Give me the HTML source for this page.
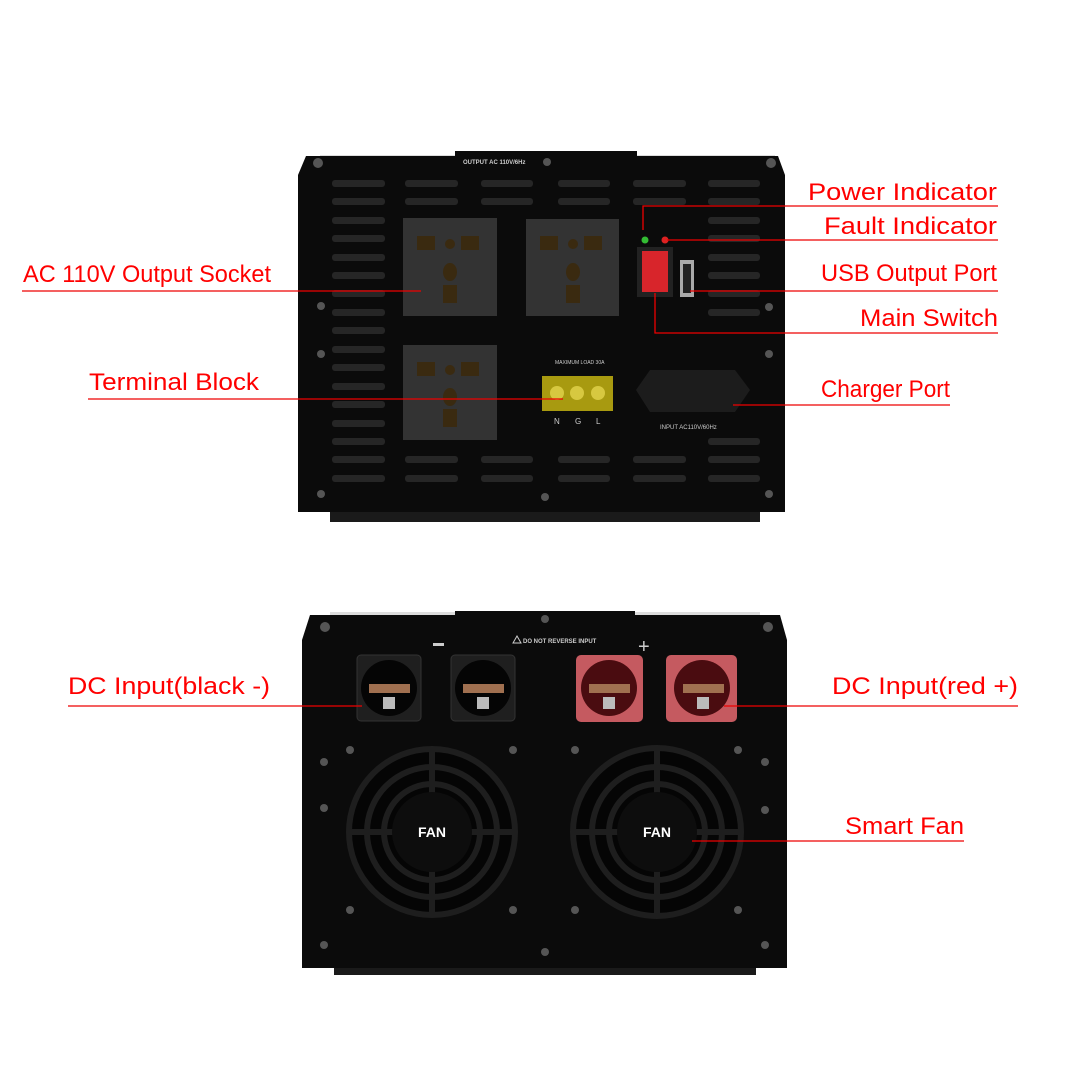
<!DOCTYPE html>
<html><head><meta charset="utf-8"><style>html,body{margin:0;padding:0;background:#fff}svg{display:block}</style></head><body>
<svg width="1080" height="1080" viewBox="0 0 1080 1080" xmlns="http://www.w3.org/2000/svg" font-family="Liberation Sans, sans-serif">
<rect width="1080" height="1080" fill="#fff"/>
<!-- TOP UNIT -->
<rect x="330" y="508" width="430" height="14" fill="#1a1a1a"/>
<rect x="320" y="155" width="455" height="8" fill="#ddd"/>
<path d="M306 156 L455 156 L455 151 L637 151 L637 156 L778 156 L785 175 L785 512 L298 512 L298 175 Z" fill="#0b0b0b"/>
<text x="463" y="164" font-size="6" fill="#ccc" font-weight="bold">OUTPUT AC 110V/6Hz</text>
<g fill="#262626">
<rect x="332" y="180" width="53" height="7" rx="3"/><rect x="405" y="180" width="53" height="7" rx="3"/><rect x="481" y="180" width="52" height="7" rx="3"/><rect x="558" y="180" width="52" height="7" rx="3"/><rect x="633" y="180" width="53" height="7" rx="3"/><rect x="708" y="180" width="52" height="7" rx="3"/>
<rect x="332" y="198" width="53" height="7" rx="3"/><rect x="405" y="198" width="53" height="7" rx="3"/><rect x="481" y="198" width="52" height="7" rx="3"/><rect x="558" y="198" width="52" height="7" rx="3"/><rect x="633" y="198" width="53" height="7" rx="3"/><rect x="708" y="198" width="52" height="7" rx="3"/>
<rect x="332" y="217" width="53" height="7" rx="3"/><rect x="332" y="235" width="53" height="7" rx="3"/><rect x="332" y="254" width="53" height="7" rx="3"/><rect x="332" y="272" width="53" height="7" rx="3"/><rect x="332" y="290" width="53" height="7" rx="3"/><rect x="332" y="309" width="53" height="7" rx="3"/><rect x="332" y="327" width="53" height="7" rx="3"/><rect x="332" y="346" width="53" height="7" rx="3"/><rect x="332" y="364" width="53" height="7" rx="3"/><rect x="332" y="383" width="53" height="7" rx="3"/><rect x="332" y="401" width="53" height="7" rx="3"/><rect x="332" y="420" width="53" height="7" rx="3"/><rect x="332" y="438" width="53" height="7" rx="3"/>
<rect x="708" y="217" width="52" height="7" rx="3"/><rect x="708" y="235" width="52" height="7" rx="3"/><rect x="708" y="254" width="52" height="7" rx="3"/><rect x="708" y="272" width="52" height="7" rx="3"/><rect x="708" y="290" width="52" height="7" rx="3"/><rect x="708" y="309" width="52" height="7" rx="3"/><rect x="708" y="438" width="52" height="7" rx="3"/>
<rect x="332" y="456" width="53" height="7" rx="3"/><rect x="405" y="456" width="53" height="7" rx="3"/><rect x="481" y="456" width="52" height="7" rx="3"/><rect x="558" y="456" width="52" height="7" rx="3"/><rect x="633" y="456" width="53" height="7" rx="3"/><rect x="708" y="456" width="52" height="7" rx="3"/>
<rect x="332" y="475" width="53" height="7" rx="3"/><rect x="405" y="475" width="53" height="7" rx="3"/><rect x="481" y="475" width="52" height="7" rx="3"/><rect x="558" y="475" width="52" height="7" rx="3"/><rect x="633" y="475" width="53" height="7" rx="3"/><rect x="708" y="475" width="52" height="7" rx="3"/>
</g>
<g fill="#333">
<rect x="403" y="218" width="94" height="98"/><rect x="526" y="219" width="93" height="97"/><rect x="403" y="345" width="94" height="95"/>
</g>
<g fill="#3a2a10">
<rect x="417" y="236" width="18" height="14"/><rect x="461" y="236" width="18" height="14"/><circle cx="450" cy="244" r="5"/><ellipse cx="450" cy="272" rx="7" ry="9"/><rect x="443" y="285" width="14" height="18"/>
<rect x="540" y="236" width="18" height="14"/><rect x="584" y="236" width="18" height="14"/><circle cx="573" cy="244" r="5"/><ellipse cx="573" cy="272" rx="7" ry="9"/><rect x="566" y="285" width="14" height="18"/>
<rect x="417" y="362" width="18" height="14"/><rect x="461" y="362" width="18" height="14"/><circle cx="450" cy="370" r="5"/><ellipse cx="450" cy="397" rx="7" ry="9"/><rect x="443" y="409" width="14" height="18"/>
</g>
<circle cx="645" cy="240" r="3.5" fill="#3b3"/><circle cx="665" cy="240" r="3.5" fill="#d22"/>
<rect x="637" y="247" width="36" height="50" fill="#222"/><rect x="642" y="251" width="26" height="41" fill="#d8252b"/>
<rect x="680" y="260" width="14" height="37" fill="#aaa"/><rect x="683" y="264" width="8" height="29" fill="#222"/>
<text x="555" y="364" font-size="5" fill="#ccc">MAXIMUM LOAD 30A</text>
<rect x="542" y="376" width="71" height="35" fill="#a89a10"/>
<circle cx="557" cy="393" r="7" fill="#d7c840"/><circle cx="577" cy="393" r="7" fill="#d7c840"/><circle cx="598" cy="393" r="7" fill="#d7c840"/>
<text x="554" y="424" font-size="8" fill="#ccc">N</text><text x="575" y="424" font-size="8" fill="#ccc">G</text><text x="596" y="424" font-size="8" fill="#ccc">L</text>
<path d="M650 370 L735 370 L750 390 L735 412 L650 412 L636 390 Z" fill="#1c1c1c"/>
<text x="660" y="429" font-size="6" fill="#ccc">INPUT  AC110V/60Hz</text>
<g fill="#555"><circle cx="318" cy="163" r="5"/><circle cx="771" cy="163" r="5"/><circle cx="321" cy="306" r="4"/><circle cx="769" cy="307" r="4"/><circle cx="321" cy="354" r="4"/><circle cx="769" cy="354" r="4"/><circle cx="321" cy="494" r="4"/><circle cx="769" cy="494" r="4"/><circle cx="545" cy="497" r="4"/><circle cx="547" cy="162" r="4"/></g>
<!-- BOTTOM UNIT -->
<rect x="334" y="964" width="422" height="11" fill="#1a1a1a"/>
<rect x="330" y="612" width="430" height="8" fill="#ddd"/>
<path d="M310 615 L455 615 L455 611 L635 611 L635 615 L780 615 L787 640 L787 968 L302 968 L302 640 Z" fill="#0b0b0b"/>
<text x="523" y="643" font-size="6" fill="#ccc" font-weight="bold">DO NOT REVERSE INPUT</text>
<path d="M513 643 L517 636 L521 643 Z" fill="none" stroke="#ccc"/>
<rect x="433" y="643" width="11" height="3" fill="#ccc"/>
<text x="638" y="653" font-size="20" fill="#ccc">+</text>
<rect x="357" y="655" width="64" height="66" rx="4" fill="#1f1f1f" stroke="#333"/>
<rect x="451" y="655" width="64" height="66" rx="4" fill="#1f1f1f" stroke="#333"/>
<rect x="576" y="655" width="67" height="67" rx="5" fill="#c55a60"/>
<rect x="666" y="655" width="71" height="67" rx="5" fill="#c55a60"/>
<circle cx="389" cy="688" r="28" fill="#050505"/><circle cx="483" cy="688" r="28" fill="#050505"/><circle cx="609" cy="688" r="28" fill="#4a0c10"/><circle cx="702" cy="688" r="28" fill="#4a0c10"/>
<g fill="#a07050"><rect x="369" y="684" width="41" height="9"/><rect x="463" y="684" width="41" height="9"/><rect x="589" y="684" width="41" height="9"/><rect x="683" y="684" width="41" height="9"/></g>
<g fill="#bbb"><rect x="383" y="697" width="12" height="12"/><rect x="477" y="697" width="12" height="12"/><rect x="603" y="697" width="12" height="12"/><rect x="697" y="697" width="12" height="12"/></g>
<g fill="none" stroke="#1e1e1e" stroke-width="6">
<circle cx="432" cy="832" r="83" fill="#050505"/><circle cx="432" cy="832" r="65"/><circle cx="432" cy="832" r="48"/>
<circle cx="657" cy="832" r="84" fill="#050505"/><circle cx="657" cy="832" r="65"/><circle cx="657" cy="832" r="48"/>
<path d="M432 749 V915 M349 832 H515 M657 748 V916 M573 832 H741"/>
</g>
<circle cx="432" cy="832" r="40" fill="#0d0d0d"/><circle cx="657" cy="832" r="40" fill="#0d0d0d"/>
<text x="432" y="837" font-size="14" font-weight="bold" fill="#fff" text-anchor="middle">FAN</text>
<text x="657" y="837" font-size="14" font-weight="bold" fill="#fff" text-anchor="middle">FAN</text>
<g fill="#555"><circle cx="325" cy="627" r="5"/><circle cx="768" cy="627" r="5"/><circle cx="545" cy="619" r="4"/><circle cx="350" cy="750" r="4"/><circle cx="513" cy="750" r="4"/><circle cx="575" cy="750" r="4"/><circle cx="738" cy="750" r="4"/><circle cx="324" cy="762" r="4"/><circle cx="765" cy="762" r="4"/><circle cx="324" cy="808" r="4"/><circle cx="765" cy="810" r="4"/><circle cx="350" cy="910" r="4"/><circle cx="513" cy="910" r="4"/><circle cx="575" cy="910" r="4"/><circle cx="738" cy="910" r="4"/><circle cx="324" cy="945" r="4"/><circle cx="765" cy="945" r="4"/><circle cx="545" cy="952" r="4"/></g>
<!-- LEADER LINES -->
<g stroke="#e00" stroke-width="1.3" fill="none">
<path d="M643 230 V206 H998"/><path d="M667 240 H998"/><path d="M690 291 H998"/><path d="M655 293 V333 H998"/><path d="M733 405 H950"/>
<path d="M22 291 H421"/><path d="M88 399 H563"/>
<path d="M68 706 H362"/><path d="M724 706 H1018"/><path d="M692 841 H964"/>
</g>
<g fill="#f00" font-size="24">
<text x="808" y="200" textLength="189" lengthAdjust="spacingAndGlyphs">Power Indicator</text>
<text x="824" y="234" textLength="173" lengthAdjust="spacingAndGlyphs">Fault Indicator</text>
<text x="821" y="281" textLength="176" lengthAdjust="spacingAndGlyphs">USB Output Port</text>
<text x="860" y="326" textLength="138" lengthAdjust="spacingAndGlyphs">Main Switch</text>
<text x="821" y="397" textLength="129" lengthAdjust="spacingAndGlyphs">Charger Port</text>
<text x="23" y="282" textLength="248" lengthAdjust="spacingAndGlyphs">AC 110V Output Socket</text>
<text x="89" y="390" textLength="170" lengthAdjust="spacingAndGlyphs">Terminal Block</text>
<text x="68" y="694" textLength="202" lengthAdjust="spacingAndGlyphs">DC Input(black -)</text>
<text x="832" y="694" textLength="186" lengthAdjust="spacingAndGlyphs">DC Input(red +)</text>
<text x="845" y="834" textLength="119" lengthAdjust="spacingAndGlyphs">Smart Fan</text>
</g>
</svg>
</body></html>
